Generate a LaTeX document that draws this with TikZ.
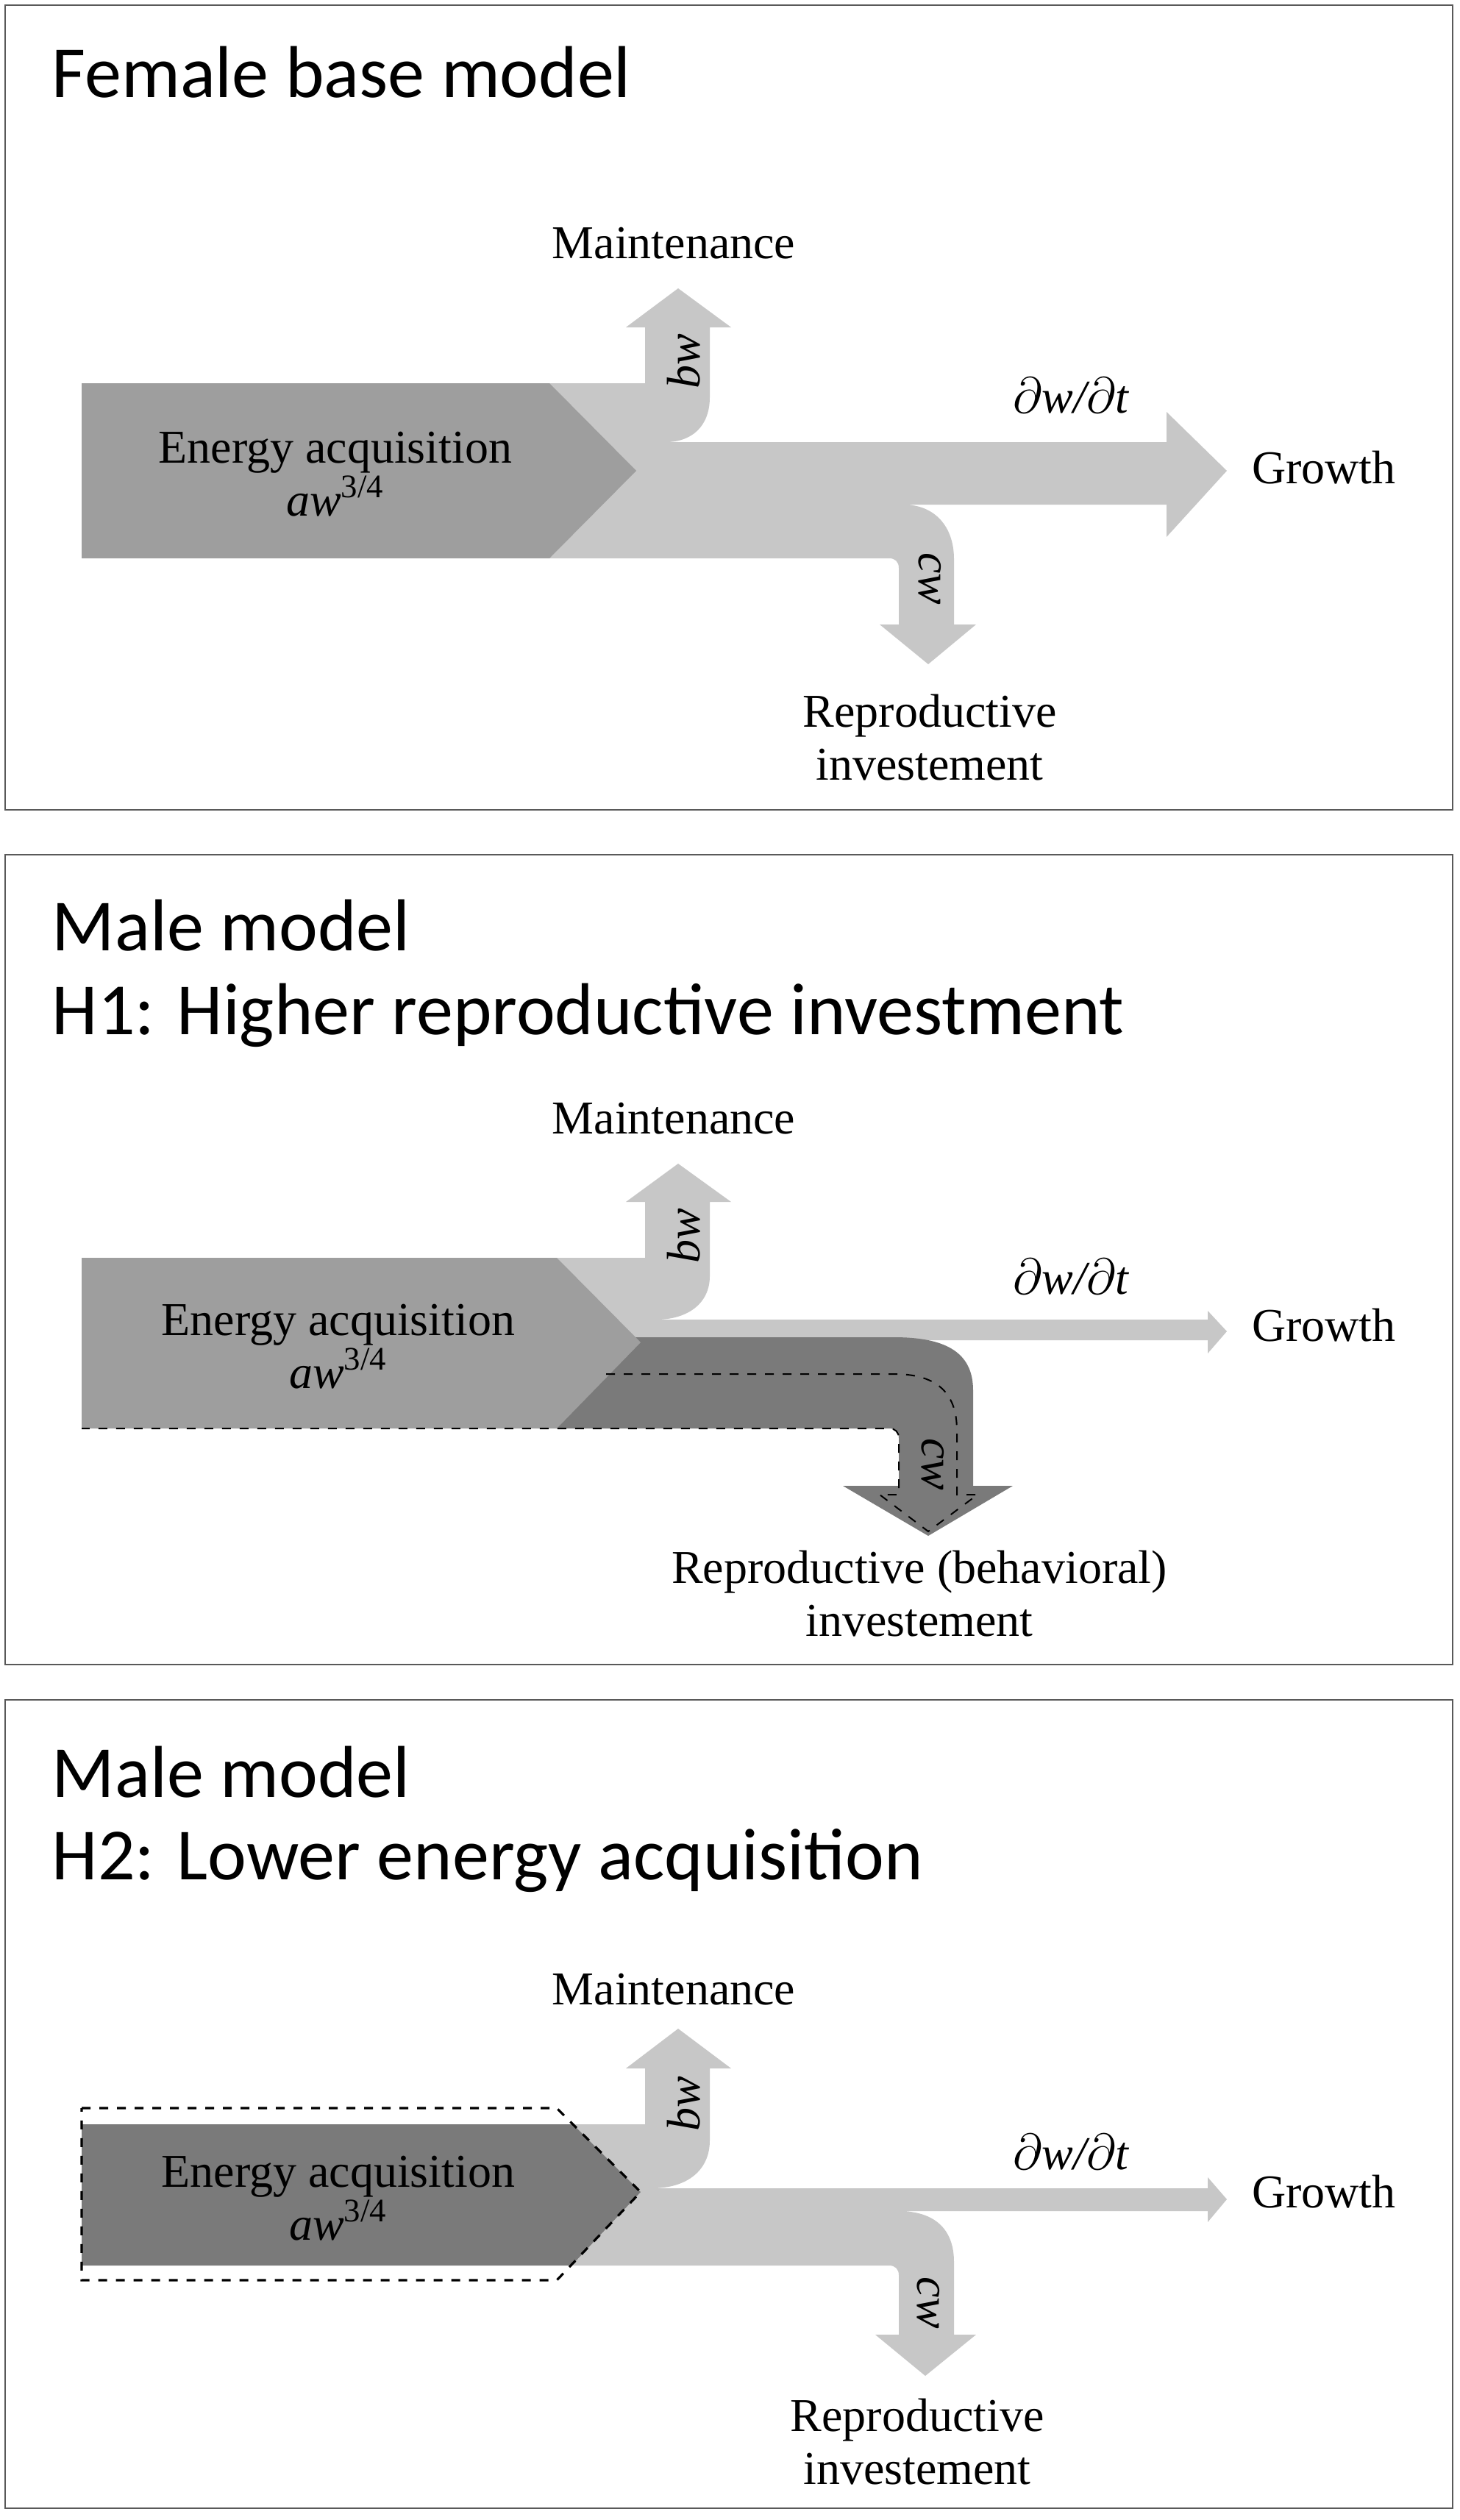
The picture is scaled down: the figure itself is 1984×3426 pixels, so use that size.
\documentclass[tikz,border=0pt]{standalone}
\usepackage{fontspec}
\setmainfont{Liberation Serif}
\newfontfamily\titlefont{Carlito}
\begin{document}
\begin{tikzpicture}[x=0.25pt,y=-0.25pt,
  frame/.style={draw=black!65,line width=0.6pt},
  ttl/.style={font=\titlefont\fontsize{25}{30}\selectfont,anchor=west,inner sep=0},
  lbl/.style={font=\fontsize{16}{19}\selectfont,inner sep=0},
  lightfill/.style={fill=black!22,draw=none},
  midfill/.style={fill=black!38,draw=none},
  darkfill/.style={fill=black!52,draw=none},
  dsh/.style={draw=black,dashed,line width=0.5pt}]
\useasboundingbox (0,0) rectangle (1984,3426);
\fill[white] (0,0) rectangle (1984,3426);

% ===== Panel 1 =====
\draw[frame] (7,7) rectangle (1975,1101);
\node[ttl] (t1) at (70,98) {Female base model};
\fill[lightfill] (747,521) -- (877,521) -- (877,445) -- (851,445) -- (922,392) -- (994,445) -- (965,445) -- (965,540)
  .. controls (965,580) and (940,601) .. (905,601) -- (1586,601) -- (1586,560) -- (1668,640) -- (1586,730) -- (1586,686)
  -- (1228,686) .. controls (1270,686) and (1297,715) .. (1297,760) -- (1297,849) -- (1327,849) -- (1262,903) -- (1196,849)
  -- (1222,849) -- (1222,772) .. controls (1222,764) and (1217,759) .. (1209,759) -- (747,759) -- cycle;
\fill[midfill] (111,521) -- (747,521) -- (865,640) -- (747,759) -- (111,759) -- cycle;
\node[lbl] (m1) at (916,331) {Maintenance};
\node[lbl,rotate=90] (b1) at (930,491) {\itshape bw};
\node[lbl] (d1) at (1456,538) {$\partial$\itshape w/$\partial$t};
\node[lbl] (g1) at (1800,636) {Growth};
\node[lbl,rotate=-90] (c1) at (1264,787) {\itshape cw};
\node[lbl,align=center] (r1) at (1264,1003) {Reproductive\\[-1pt]investement};
\node[lbl,align=center] (e1) at (456,645) {Energy acquisition\\[-1pt]\itshape aw\textsuperscript{\upshape 3/4}};

% ===== Panel 2 =====
\draw[frame] (7,1162) rectangle (1975,2263);
\node[ttl] (t2a) at (70,1258) {Male model};
\node[ttl] (t2b) at (70,1380) {H1: Higher reproductive investment};
\fill[lightfill] (757,1710) -- (877,1710) -- (877,1634) -- (851,1634) -- (922,1582) -- (994,1634) -- (965,1634) -- (965,1735)
  .. controls (965,1772) and (935,1794) .. (892,1794) -- (1642,1794) -- (1642,1782) -- (1668,1810) -- (1642,1840) -- (1642,1822)
  -- (757,1822) -- cycle;
\fill[darkfill] (757,1818) -- (1215,1818) .. controls (1280,1818) and (1323,1835) .. (1323,1890) -- (1323,2020) -- (1377,2020)
  -- (1262,2088) -- (1146,2020) -- (1222,2020) -- (1222,1955) .. controls (1222,1947) and (1217,1942) .. (1209,1942) -- (757,1942) -- cycle;
\fill[midfill] (111,1710) -- (757,1710) -- (871,1825) -- (757,1942) -- (111,1942) -- cycle;
\draw[dsh] (824,1868) -- (1215,1868) .. controls (1270,1868) and (1301,1890) .. (1301,1945) -- (1301,2032) -- (1329,2032)
  -- (1262,2082) -- (1196,2032) -- (1222,2032) -- (1222,1955) .. controls (1222,1947) and (1217,1942) .. (1209,1942) -- (111,1942);
\node[lbl] (m2) at (916,1521) {Maintenance};
\node[lbl,rotate=90] (b2) at (930,1680) {\itshape bw};
\node[lbl] (d2) at (1456,1736) {$\partial$\itshape w/$\partial$t};
\node[lbl] (g2) at (1800,1802) {Growth};
\node[lbl,rotate=-90] (c2) at (1268,1991) {\itshape cw};
\node[lbl,align=center] (r2) at (1250,2167) {Reproductive (behavioral)\\[-1pt]investement};
\node[lbl,align=center] (e2) at (460,1831) {Energy acquisition\\[-1pt]\itshape aw\textsuperscript{\upshape 3/4}};

% ===== Panel 3 =====
\draw[frame] (7,2311) rectangle (1975,3410);
\node[ttl] (t3a) at (70,2409) {Male model};
\node[ttl] (t3b) at (70,2529) {H2: Lower energy acquisition};
\fill[lightfill] (777,2888) -- (877,2888) -- (877,2812) -- (851,2812) -- (922,2758) -- (994,2812) -- (965,2812) -- (965,2910)
  .. controls (965,2950) and (935,2975) .. (886,2975) -- (1642,2975) -- (1642,2960) -- (1668,2990) -- (1642,3021) -- (1642,3006)
  -- (1222,3006) .. controls (1270,3006) and (1297,3030) .. (1297,3075) -- (1297,3174) -- (1327,3174) -- (1258,3230) -- (1190,3174)
  -- (1222,3174) -- (1222,3093) .. controls (1222,3085) and (1217,3080) .. (1209,3080) -- (777,3080) -- cycle;
\fill[darkfill] (111,2888) -- (779,2888) -- (871,2980) -- (777,3080) -- (111,3080) -- cycle;
\draw[dsh,line width=0.8pt] (111,2866) -- (757,2866) -- (871,2980) -- (757,3100) -- (111,3100) -- cycle;
\node[lbl] (m3) at (916,2705) {Maintenance};
\node[lbl,rotate=90] (b3) at (930,2860) {\itshape bw};
\node[lbl] (d3) at (1456,2926) {$\partial$\itshape w/$\partial$t};
\node[lbl] (g3) at (1800,2980) {Growth};
\node[lbl,rotate=-90] (c3) at (1262,3131) {\itshape cw};
\node[lbl,align=center] (r3) at (1247,3320) {Reproductive\\[-1pt]investement};
\node[lbl,align=center] (e3) at (460,2989) {Energy acquisition\\[-1pt]\itshape aw\textsuperscript{\upshape 3/4}};
\end{tikzpicture}
\end{document}
